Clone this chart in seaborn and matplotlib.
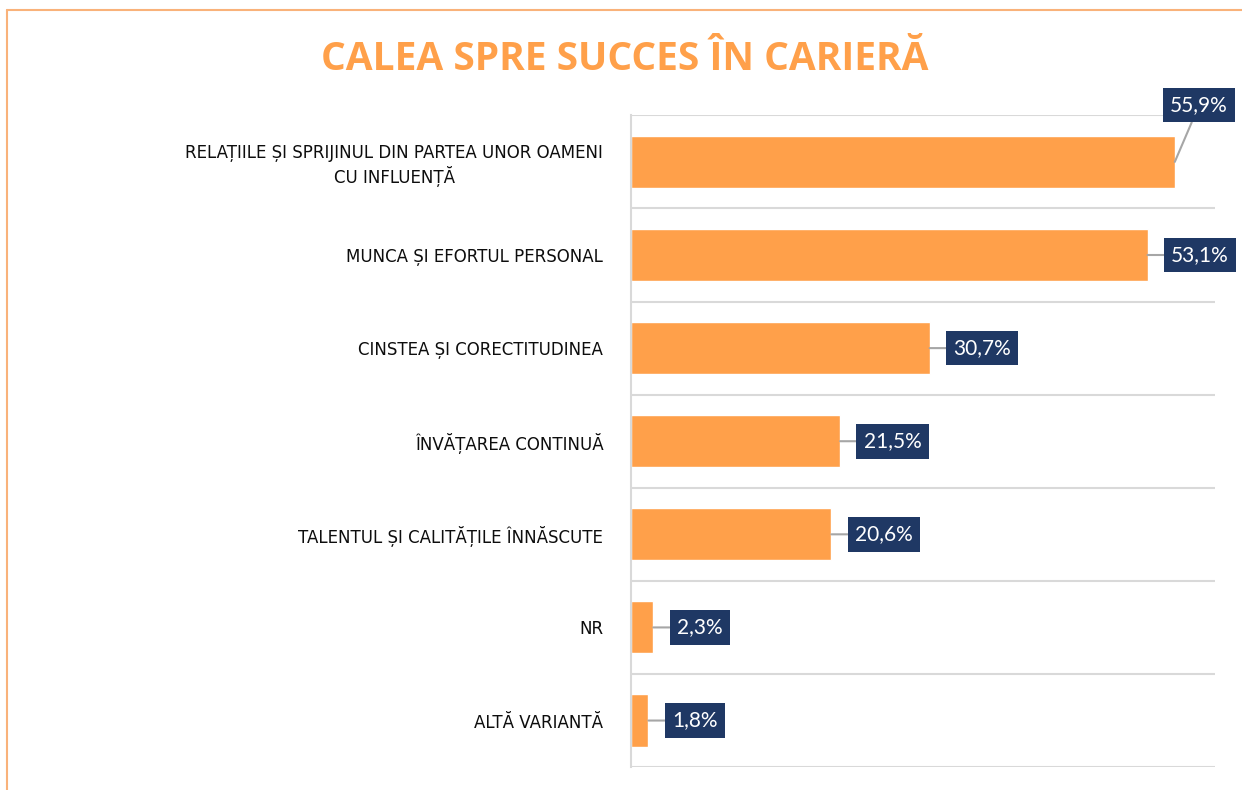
import matplotlib
matplotlib.use('Agg')
import matplotlib.pyplot as plt
import seaborn as sns
import pandas as pd
from matplotlib.lines import Line2D

# ── Data ─────────────────────────────────────────────────────────────────────
categories = [
    'RELAȚIILE ȘI SPRIJINUL DIN PARTEA UNOR OAMENI\nCU INFLUENȚĂ',
    'MUNCA ȘI EFORTUL PERSONAL',
    'CINSTEA ȘI CORECTITUDINEA',
    'ÎNVĂȚAREA CONTINUĂ',
    'TALENTUL ȘI CALITĂȚILE ÎNNĂSCUTE',
    'NR',
    'ALTĂ VARIANTĂ',
]
values = [55.9, 53.1, 30.7, 21.5, 20.6, 2.3, 1.8]
value_labels = ['55,9%', '53,1%', '30,7%', '21,5%', '20,6%', '2,3%', '1,8%']
title = 'CALEA SPRE SUCCES ÎN CARIERĂ'

ORANGE = '#FFA04A'
NAVY = '#1F3864'
GRID = '#D9D9D9'

df = pd.DataFrame({'cat': categories, 'val': values})

sns.set_style('white')
plt.rcParams['font.family'] = ['DejaVu Sans']

fig = plt.figure(figsize=(12.42, 7.9), dpi=100)
ax = fig.add_axes([0.508, 0.029, 0.470, 0.825])

sns.barplot(data=df, x='val', y='cat', orient='h', color=ORANGE,
            width=0.56, saturation=1, ax=ax)

ax.set_xlim(0, 60)
ax.set_ylim(len(categories) - 0.5, -0.5)
ax.set_xlabel(''); ax.set_ylabel('')
ax.set_xticks([])

# horizontal separators between categories
for k in range(len(categories) + 1):
    ax.axhline(k - 0.5, color=GRID, lw=1.5, zorder=0)

for s in ['top', 'right', 'bottom']:
    ax.spines[s].set_visible(False)
ax.spines['left'].set_color(GRID)
ax.spines['left'].set_linewidth(1.5)

ax.tick_params(axis='y', length=0, pad=20)
for lab in ax.get_yticklabels():
    lab.set_fontsize(12)
    lab.set_color('#0d0d0d')
    lab.set_multialignment('center')

# value labels in dark boxes with leader lines
for i, (v, txt) in enumerate(zip(values, value_labels)):
    if i == 0:
        xytext, coords, ha = (58.4, -0.61), 'data', 'center'
    else:
        xytext, coords, ha = (17, 0), 'offset points', 'left'
    ax.annotate(txt, xy=(v, i), xytext=xytext, textcoords=coords,
                ha=ha, va='center', fontsize=15, color='white',
                family='Lato', annotation_clip=False,
                bbox=dict(boxstyle='square,pad=0.35', fc=NAVY, ec='none'),
                arrowprops=dict(arrowstyle='-', color='#A6A6A6', lw=1.5,
                                shrinkA=0, shrinkB=0))

fig.text(0.503, 0.925, title, ha='center', va='center', fontsize=28,
         fontweight='bold', color=ORANGE, family='Open Sans')

# outer orange frame (top and left)
fig.add_artist(Line2D([0.0056, 1.0], [0.987, 0.987], color='#F9B27A', lw=1.5,
                      transform=fig.transFigure))
fig.add_artist(Line2D([0.0056, 0.0056], [0.0, 0.987], color='#F9B27A', lw=1.5,
                      transform=fig.transFigure))

fig.savefig('out.png', dpi=100)
